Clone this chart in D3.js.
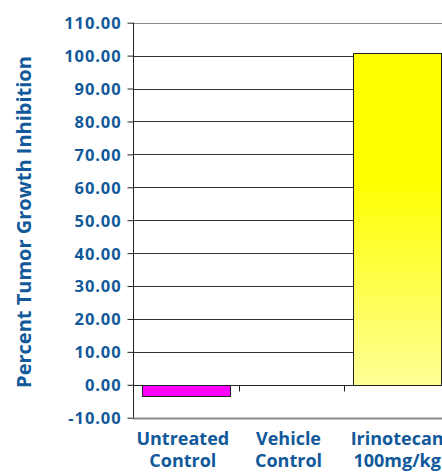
<!DOCTYPE html>
<html>
<head>
<meta charset="utf-8">
<script src="https://cdn.jsdelivr.net/npm/d3@7"></script>
<style>
    body { margin: 0; background: #fff; }
    svg { display: block; }
    .lbl { font-family: "Open Sans", sans-serif; font-weight: 700; fill: #11599a; }
</style>
</head>
<body>
<div id="chart"></div>
<script>
// data
const categories = ["Untreated Control", "Vehicle Control", "Irinotecan 100mg/kg"];
const categoryLines = [["Untreated", "Control"], ["Vehicle", "Control"], ["Irinotecan", "100mg/kg"]];
const inhibition = [-3.5, 0, 100.8];
const barColors = ["#ff00ff", "none", "url(#yellowGrad)"];
const yTicks = [-10, 0, 10, 20, 30, 40, 50, 60, 70, 80, 90, 100, 110];

const width = 442, height = 473;
const plotLeft = 133, plotRight = 450, plotTop = 22.7, plotBottom = 417.7;

const svg = d3.select('#chart').append('svg')
    .attr('width', width)
    .attr('height', height);

// gradient for the irinotecan bar
const grad = svg.append('defs').append('linearGradient')
    .attr('id', 'yellowGrad')
    .attr('x1', 0).attr('y1', 0).attr('x2', 0).attr('y2', 1);
grad.append('stop').attr('offset', '0%').attr('stop-color', '#ffff00');
grad.append('stop').attr('offset', '38%').attr('stop-color', '#ffff00');
grad.append('stop').attr('offset', '100%').attr('stop-color', '#ffff96');

const y = d3.scaleLinear().domain([-10, 110]).range([plotBottom, plotTop]);
const x = d3.scaleBand().domain(categories).range([plotLeft, plotRight])
    .paddingInner(0.167).paddingOuter(0.0836);

// gridlines
svg.append('g')
    .selectAll('line')
    .data(yTicks)
    .enter().append('line')
    .attr('x1', plotLeft).attr('x2', width)
    .attr('y1', d => Math.round(y(d)) + 0.5)
    .attr('y2', d => Math.round(y(d)) + 0.5)
    .attr('stroke', d => (d === -10 || d === 110) ? '#8a8a8a' : '#333')
    .attr('stroke-width', d => d === -10 ? 2 : 1);

// bars
svg.append('g')
    .selectAll('rect')
    .data(inhibition)
    .enter().append('rect')
    .attr('x', (d, i) => Math.round(x(categories[i])) + 0.5)
    .attr('width', x.bandwidth())
    .attr('y', d => Math.round(y(Math.max(0, d))) + 0.5)
    .attr('height', d => Math.abs(Math.round(y(d)) - Math.round(y(0))))
    .attr('fill', (d, i) => barColors[i])
    .attr('stroke', (d, i) => d === 0 ? 'none' : '#222')
    .attr('stroke-width', 1);

// y axis, plain hyphen for negatives
const fmt = d3.format('.2f');
const yAxis = svg.append('g')
    .attr('transform', 'translate(' + (plotLeft + 0.5) + ',0)')
    .call(d3.axisLeft(y).tickValues(yTicks).tickSize(6).tickPadding(6)
        .tickFormat(d => fmt(d).replace('\u2212', '-')));
yAxis.select('.domain').attr('stroke', '#222').attr('d', 'M0,' + plotTop + 'V' + plotBottom);
yAxis.selectAll('.tick line').attr('stroke', '#222');
yAxis.selectAll('.tick text')
    .attr('class', 'lbl')
    .style('font-size', '16.5px')
    .style('letter-spacing', '0.9px')
    .attr('dy', '0.36em');

// category axis at zero
const xAxis = svg.append('g')
    .attr('transform', 'translate(0,' + (Math.round(y(0)) + 0.5) + ')')
    .call(d3.axisBottom(x).tickSize(0).tickFormat(''));
xAxis.select('.domain').attr('stroke', '#222').attr('d', 'M' + plotLeft + ',0H' + width);
xAxis.selectAll('.tick').remove();
const boundaries = categories.slice(1).map(c => x(c) - x.step() * x.paddingInner() / 2);
xAxis.selectAll('.bnd')
    .data(boundaries)
    .enter().append('line')
    .attr('x1', d => Math.round(d) + 0.5).attr('x2', d => Math.round(d) + 0.5)
    .attr('y1', 0).attr('y2', 6)
    .attr('stroke', '#222');

// category labels
const cat = svg.append('g')
    .selectAll('text')
    .data(categoryLines)
    .enter().append('text')
    .attr('class', 'lbl')
    .attr('text-anchor', 'middle')
    .style('font-size', '18px')
    .attr('x', (d, i) => x(categories[i]) + x.bandwidth() / 2 - (i === 2 ? 0 : 3));
cat.selectAll('tspan')
    .data(d => d)
    .enter().append('tspan')
    .attr('x', function () { return d3.select(this.parentNode).attr('x'); })
    .attr('y', (d, i) => i === 0 ? 445 : 467)
    .text(d => d);

// y title
svg.append('text')
    .attr('class', 'lbl')
    .attr('text-anchor', 'middle')
    .style('font-size', '20px')
    .attr('transform', 'translate(31,222) rotate(-90)')
    .text('Percent Tumor Growth Inhibition');
</script>
</body>
</html>
